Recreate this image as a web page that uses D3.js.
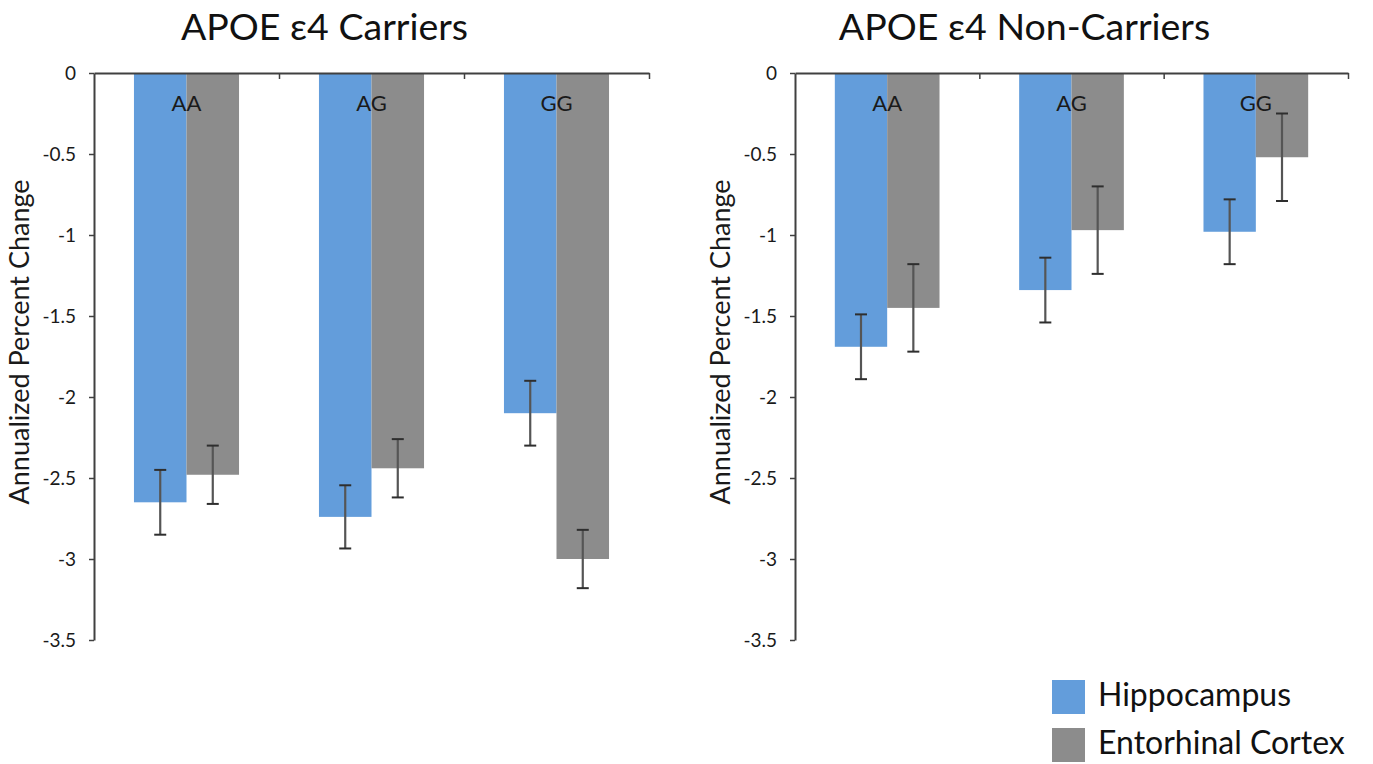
<!DOCTYPE html>
<html>
<head>
<meta charset="utf-8">
<script src="https://cdn.jsdelivr.net/npm/d3@7"></script>
<style>
  html, body { margin: 0; padding: 0; background: #fff; }
  svg { display: block; }
</style>
</head>
<body>
<svg id="chart" width="1373" height="764"></svg>
<script>
// Genotype groups along each panel's x axis
const genotypes = ["AA", "AG", "GG"];
const regions = ["Hippocampus", "Entorhinal Cortex"];

// APOE e4 carriers: mean annualized percent change and error half-widths
const carrierHippocampus = [-2.65, -2.74, -2.10];
const carrierHippocampusErr = [0.20, 0.195, 0.20];
const carrierEntorhinal = [-2.48, -2.44, -3.00];
const carrierEntorhinalErr = [0.18, 0.18, 0.18];

// APOE e4 non-carriers
const nonCarrierHippocampus = [-1.69, -1.34, -0.98];
const nonCarrierHippocampusErr = [0.20, 0.20, 0.20];
const nonCarrierEntorhinal = [-1.45, -0.97, -0.52];
const nonCarrierEntorhinalErr = [0.27, 0.27, 0.27];

// Y axis ticks and their labels
const yTicks = [0, -0.5, -1, -1.5, -2, -2.5, -3, -3.5];
const yTickLabels = ["0", "-0.5", "-1", "-1.5", "-2", "-2.5", "-3", "-3.5"];

const panelTitles = ["APOE \u03b54 Carriers", "APOE \u03b54 Non-Carriers"];
const yAxisTitle = "Annualized Percent Change";

const colors = { "Hippocampus": "#639ddb", "Entorhinal Cortex": "#8c8c8c" };
const titleFont = "Lato, 'Open Sans', sans-serif";
const axisFont = "Lato, 'Open Sans', sans-serif";

const svg = d3.select("#chart");

const panels = [
  {
    title: panelTitles[0],
    x0: 94, x1: 649,
    series: [
      { region: regions[0], values: carrierHippocampus, errs: carrierHippocampusErr },
      { region: regions[1], values: carrierEntorhinal, errs: carrierEntorhinalErr }
    ]
  },
  {
    title: panelTitles[1],
    x0: 795, x1: 1348,
    series: [
      { region: regions[0], values: nonCarrierHippocampus, errs: nonCarrierHippocampusErr },
      { region: regions[1], values: nonCarrierEntorhinal, errs: nonCarrierEntorhinalErr }
    ]
  }
];

const y = d3.scaleLinear().domain([0, -3.5]).range([73, 640]);

panels.forEach(p => {
  const g = svg.append("g");

  const x = d3.scaleBand().domain(genotypes).range([p.x0, p.x1])
    .paddingInner(0.432).paddingOuter(0.216);
  const xs = d3.scaleBand().domain(regions).range([0, x.bandwidth()]);
  const xBound = d3.scaleLinear().domain([0, genotypes.length]).range([p.x0, p.x1]);

  // bars
  p.series.forEach(s => {
    g.append("g").selectAll("rect")
      .data(genotypes.map((c, i) => ({ c, v: s.values[i], e: s.errs[i] })))
      .join("rect")
      .attr("x", d => x(d.c) + xs(s.region))
      .attr("y", y(0))
      .attr("width", xs.bandwidth())
      .attr("height", d => y(d.v) - y(0))
      .attr("fill", colors[s.region]);
  });

  // error bars
  p.series.forEach(s => {
    const eg = g.append("g").attr("stroke", "#2e2e2e").attr("stroke-width", 2);
    genotypes.forEach((c, i) => {
      const cx = x(c) + xs(s.region) + xs.bandwidth() / 2;
      const top = y(s.values[i] + s.errs[i]);
      const bot = y(s.values[i] - s.errs[i]);
      eg.append("line").attr("x1", cx).attr("x2", cx).attr("y1", top).attr("y2", bot)
        .attr("stroke", "#555").attr("stroke-width", 2.2);
      eg.append("line").attr("x1", cx - 6).attr("x2", cx + 6).attr("y1", top).attr("y2", top);
      eg.append("line").attr("x1", cx - 6).attr("x2", cx + 6).attr("y1", bot).attr("y2", bot);
    });
  });

  // category labels inside the bars
  g.append("g").selectAll("text")
    .data(genotypes)
    .join("text")
    .attr("x", d => x(d) + x.bandwidth() / 2)
    .attr("y", 111)
    .attr("text-anchor", "middle")
    .attr("font-family", axisFont)
    .attr("font-size", 22)
    .attr("fill", "#1a1a1a")
    .text(d => d);

  // top category axis (zero line) with boundary ticks pointing down
  const xAxis = g.append("g")
    .attr("transform", `translate(0,${y(0)})`)
    .call(d3.axisBottom(xBound).tickValues([1, 2, 3]).tickSize(6).tickSizeOuter(0).tickFormat(""));
  xAxis.select(".domain").attr("stroke", "#404040").attr("stroke-width", 2);
  xAxis.selectAll(".tick line").attr("stroke", "#404040").attr("stroke-width", 1.5);

  // value axis
  const yAxis = g.append("g")
    .attr("transform", `translate(${p.x0},0)`)
    .call(d3.axisLeft(y).tickValues(yTicks).tickSize(5).tickSizeOuter(0).tickPadding(13)
      .tickFormat((d, i) => yTickLabels[i]));
  yAxis.select(".domain").attr("stroke", "#404040").attr("stroke-width", 2);
  yAxis.selectAll(".tick line").attr("stroke", "#404040").attr("stroke-width", 1.5);
  yAxis.selectAll(".tick text")
    .attr("font-family", axisFont).attr("font-size", 19).attr("fill", "#1a1a1a");

  // axis title
  g.append("text")
    .attr("transform", `translate(${p.x0 - 72},${y(-1.66)}) rotate(-90)`)
    .attr("text-anchor", "middle")
    .attr("dominant-baseline", "middle")
    .attr("font-family", axisFont)
    .attr("font-size", 27)
    .attr("fill", "#1a1a1a")
    .text(yAxisTitle);

  // panel title
  g.append("text")
    .attr("x", (p.x0 + p.x1) / 2 - 47)
    .attr("y", 40)
    .attr("text-anchor", "middle")
    .attr("font-family", titleFont)
    .attr("font-size", 37.5)
    .attr("fill", "#111")
    .text(p.title);
});

// legend
const legend = svg.append("g").attr("transform", "translate(1052,680)");
regions.forEach((r, i) => {
  const row = legend.append("g").attr("transform", `translate(0,${i * 48})`);
  row.append("rect").attr("width", 33).attr("height", 34).attr("fill", colors[r]);
  row.append("text")
    .attr("x", 46).attr("y", 26)
    .attr("font-family", titleFont)
    .attr("font-size", 32)
    .attr("fill", "#111")
    .text(r);
});
</script>
</body>
</html>
